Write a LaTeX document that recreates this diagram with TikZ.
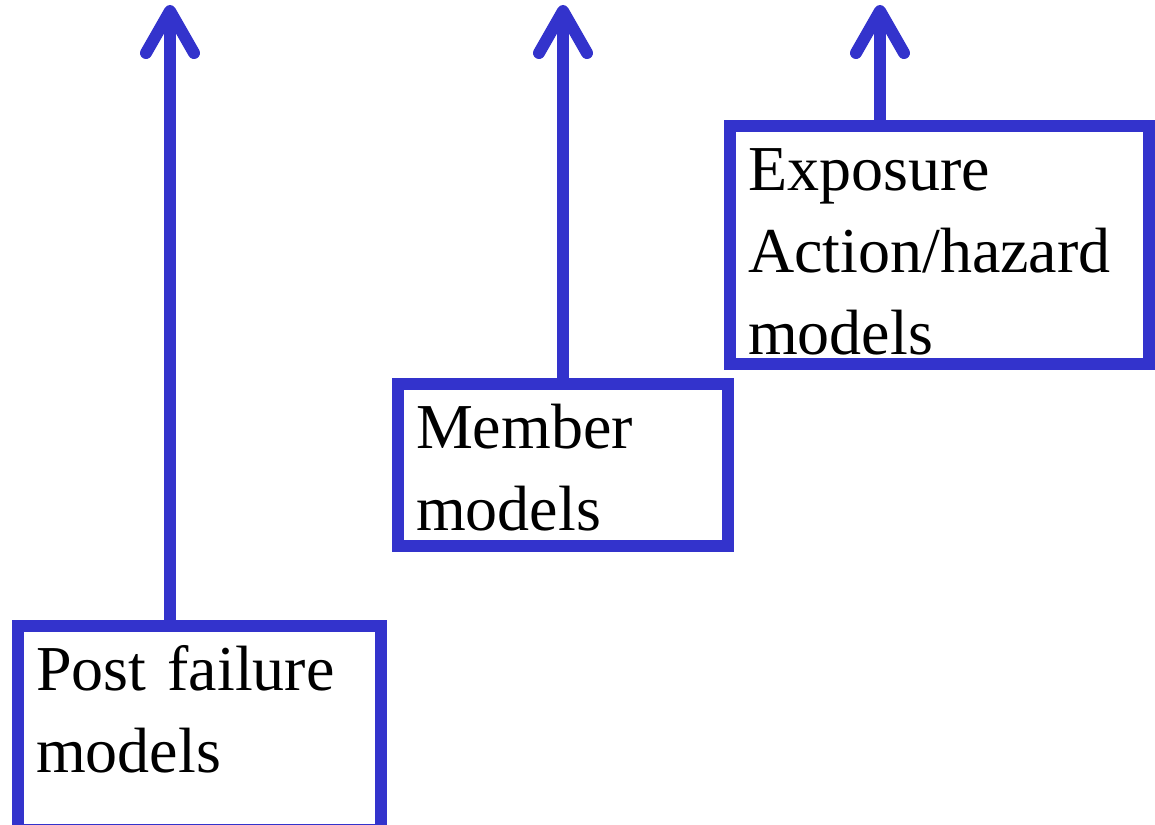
\documentclass[tikz,border=0pt]{standalone}
\usepackage{fontspec}
\setmainfont{Liberation Serif}
\usepackage{tikz}
\usetikzlibrary{arrows.meta}
\definecolor{modelblue}{RGB}{51,51,204}

\tikzset{
  modelbox/.style={draw=modelblue, line width=12pt, fill=white, anchor=north west,
    align=left, inner xsep=18pt, inner ysep=18pt, text height=46pt,
    font=\fontsize{64}{82}\selectfont},
  uparrow/.style={draw=modelblue, line width=12pt,
    -{Straight Barb[length=42pt, width=48pt, round]}}
}

\begin{document}
\begin{tikzpicture}[x=1pt, y=-1pt]

   \useasboundingbox (0,0) rectangle (1155,824);

   \node[modelbox, text width=327pt, text depth=122pt] (post) at (12,620) {Post failure\\models};
   \node[modelbox, text width=294pt, text depth=80pt] (member) at (392,378) {Member\\models};
   \node[modelbox, text width=383pt, text depth=156pt] (exposure) at (724,120) {Exposure\\Action/hazard\\models};

   \coordinate (posttop) at (170,5);
   \coordinate (membertop) at (563,5);
   \coordinate (exposuretop) at (880,5);

   \draw[uparrow] (post.north -| posttop) -- (posttop);
   \draw[uparrow] (member.north -| membertop) -- (membertop);
   \draw[uparrow] (exposure.north -| exposuretop) -- (exposuretop);

\end{tikzpicture}
\end{document}
